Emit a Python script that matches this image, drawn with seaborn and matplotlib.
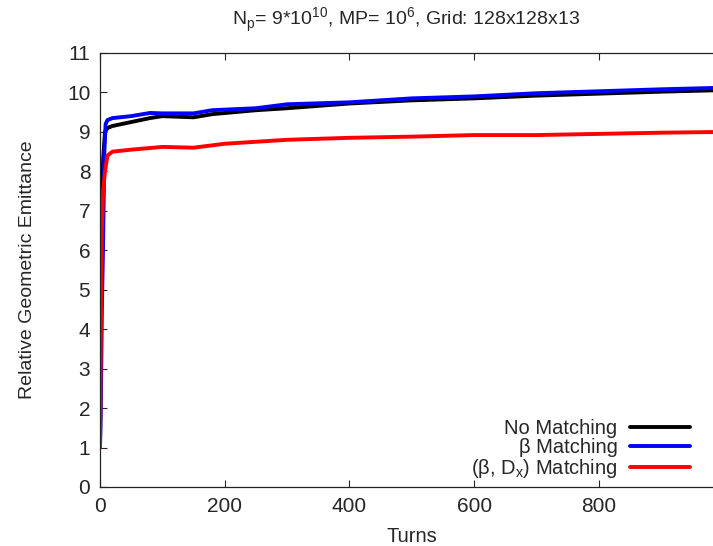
import matplotlib
matplotlib.use("Agg")
import matplotlib.pyplot as plt
import seaborn as sns
import pandas as pd

# values
turns_black = [0, 1, 2, 3, 5, 8, 12, 20, 50, 80, 100, 150, 180, 250, 300, 400, 500, 600, 700, 800, 900, 1000]
no_matching = [1.0, 3.0, 5.0, 7.0, 8.3, 9.0, 9.1, 9.15, 9.25, 9.35, 9.4, 9.37, 9.45, 9.55, 9.6, 9.72, 9.8, 9.85, 9.92, 9.97, 10.02, 10.06]

turns_blue = [0, 1, 2, 3, 5, 7, 9, 12, 20, 50, 80, 100, 150, 180, 250, 300, 400, 500, 600, 700, 800, 900, 1000]
beta_matching = [1.0, 1.7, 3.0, 4.5, 6.2, 8.5, 9.2, 9.3, 9.35, 9.4, 9.48, 9.47, 9.47, 9.55, 9.6, 9.7, 9.75, 9.85, 9.9, 9.98, 10.03, 10.08, 10.12]

turns_red = [0, 1, 2, 3, 5, 8, 12, 20, 50, 100, 150, 200, 300, 400, 500, 600, 700, 800, 900, 1000]
beta_dx_matching = [1.0, 3.0, 5.0, 6.5, 7.5, 8.0, 8.4, 8.5, 8.55, 8.62, 8.6, 8.7, 8.8, 8.85, 8.88, 8.92, 8.92, 8.95, 8.98, 9.0]

labels = ["No Matching", "β Matching", r"(β, D$_\mathregular{x}$) Matching"]
colors = ["black", "#0000ff", "#ff0000"]
xticks = [0, 200, 400, 600, 800]

frames = []
for lab, t, v in zip(labels, [turns_black, turns_blue, turns_red],
                     [no_matching, beta_matching, beta_dx_matching]):
    frames.append(pd.DataFrame({"Turns": t, "emit": v, "series": lab}))
df = pd.concat(frames, ignore_index=True)

sns.set_style("ticks")
plt.rcParams['font.family'] = ['Liberation Sans', 'DejaVu Sans']
plt.rcParams['mathtext.fontset'] = 'custom'
plt.rcParams['mathtext.rm'] = 'Liberation Sans'

fig = plt.figure(figsize=(7.13, 5.46), dpi=100)
ax = fig.add_axes([100 / 713, 59 / 546, 623.5 / 713, 434 / 546])

sns.lineplot(data=df, x="Turns", y="emit", hue="series", palette=colors,
             hue_order=labels, linewidth=2.8, ax=ax, sort=False)

ax.set_xlim(0, 1000)
ax.set_ylim(0, 11)
ax.set_xticks(xticks)
ax.set_yticks(range(0, 12))
ax.tick_params(direction="in", length=5, width=0.8, labelsize=15,
               top=True, right=True, pad=7)
for s in ax.spines.values():
    s.set_linewidth(0.9)
    s.set_color("#222222")

ax.set_xlabel("Turns", fontsize=14.5, labelpad=8)
ax.set_ylabel("Relative Geometric Emittance", fontsize=14, labelpad=22)
fig.text(406 / 713, 1 - 20 / 546, r"N$_\mathregular{p}$= 9*10$^\mathregular{10}$, MP= 10$^\mathregular{6}$, Grid: 128x128x13",
         ha="center", va="center", fontsize=14)

ax.legend(loc="lower right", bbox_to_anchor=(700 / 713, 56 / 546),
          bbox_transform=fig.transFigure, frameon=False, markerfirst=False,
          fontsize=14.5, handlelength=3.0, labelspacing=0.0, handletextpad=0.6,
          borderpad=0)

fig.savefig("out.png", dpi=100)
